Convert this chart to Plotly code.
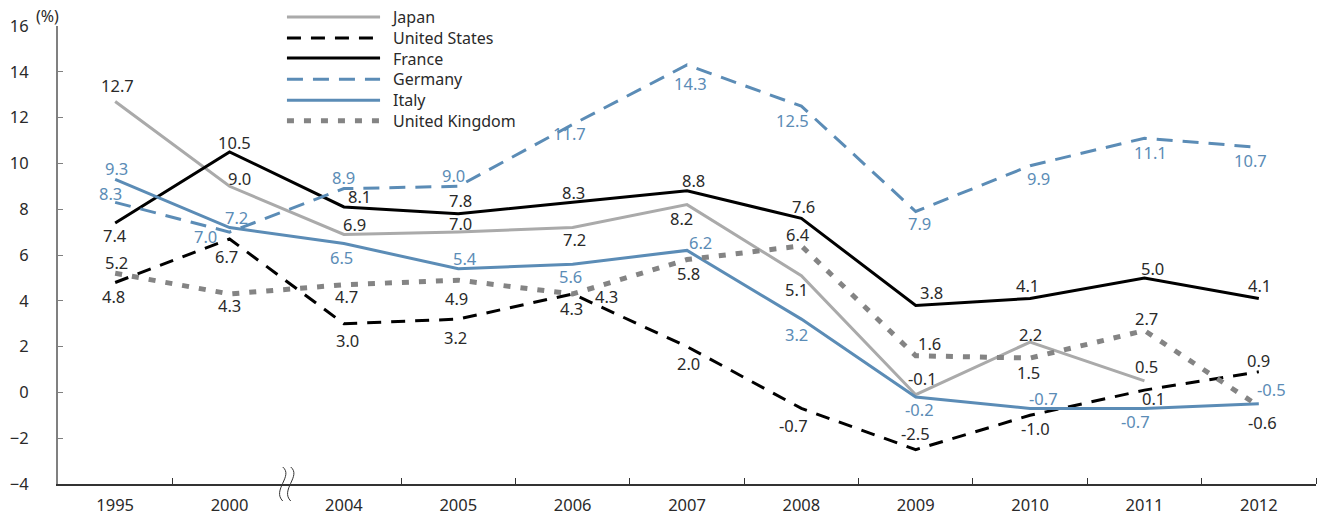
import plotly.graph_objects as go

# ---------------- data ----------------
years = ["1995", "2000", "2004", "2005", "2006", "2007", "2008", "2009", "2010", "2011", "2012"]
japan = [12.7, 9.0, 6.9, 7.0, 7.2, 8.2, 5.1, -0.1, 2.2, 0.5, None]
united_states = [4.8, 6.7, 3.0, 3.2, 4.3, 2.0, -0.7, -2.5, -1.0, 0.1, 0.9]
france = [7.4, 10.5, 8.1, 7.8, 8.3, 8.8, 7.6, 3.8, 4.1, 5.0, 4.1]
germany = [8.3, 7.0, 8.9, 9.0, 11.7, 14.3, 12.5, 7.9, 9.9, 11.1, 10.7]
italy = [9.3, 7.2, 6.5, 5.4, 5.6, 6.2, 3.2, -0.2, -0.7, -0.7, -0.5]
united_kingdom = [5.2, 4.3, 4.7, 4.9, 4.3, 5.8, 6.4, 1.6, 1.5, 2.7, -0.6]

# ---------------- styling ----------------
FONT = "Noto Sans"
FS = 16.5
TXT = "#2a2a2a"
BLUE = "#5b8cb6"
GRAY_J = "#aaaaaa"
GRAY_UK = "#848484"

series = [
    ("Japan", japan, dict(color=GRAY_J, width=3), TXT),
    ("United States", united_states, dict(color="#000000", width=3, dash="14px,10px"), TXT),
    ("France", france, dict(color="#000000", width=3), TXT),
    ("Germany", germany, dict(color=BLUE, width=3, dash="16px,10px"), BLUE),
    ("Italy", italy, dict(color=BLUE, width=3), BLUE),
    ("United Kingdom", united_kingdom, dict(color=GRAY_UK, width=5, dash="7px,10px"), TXT),
]

# label offsets in px (dx right, dy down) for each series' value labels
label_offsets = {
    "Japan": [(2, -16), (10, -8), (11, -10), (2, -9), (2, 12), (-6, 14), (-5, 14), (7, -16), (0, -8), (2, -14)],
    "United States": [(-2, 14), (-3, 18), (4, 17), (-3, 18), (-1, 15), (1, 17), (-8, 17), (0, -16), (5, 13), (9, 8), (0, -11)],
    "France": [(0, 13), (5, -9), (16, -10), (2, -13), (1, -10), (6, -10), (2, -12), (16, -13), (-3, -13), (8, -9), (1, -13)],
    "Germany": [(-5, -9), (-24, 4), (0, -11), (-5, -11), (-3, 9), (3, 19), (-9, 14), (4, 12), (8, 13), (6, 14), (-8, 13)],
    "Italy": [(1, -11), (7, -10), (-2, 14), (7, -10), (-2, 12), (13, -8), (-5, 15), (4, 13), (13, -10), (-9, 13), (13, -14)],
    "United Kingdom": [(1, -11), (0, 12), (3, 12), (-2, 18), (34, 3), (1, 14), (-3, -11), (14, -12), (-2, 14), (2, -12), (4, 16)],
}

xs = list(range(len(years)))

fig = go.Figure()
annotations = []
for name, vals, line, tcolor in series:
    fig.add_trace(go.Scatter(x=xs, y=vals, mode="lines", name=name, line=line,
                             showlegend=False, connectgaps=False, hoverinfo="skip"))
    offs = label_offsets[name]
    for i, v in enumerate(vals):
        if v is None:
            continue
        dx, dy = offs[i]
        annotations.append(dict(x=xs[i], y=v, xref="x", yref="y", text=f"{v:.1f}",
                                showarrow=False, xshift=dx, yshift=-dy,
                                font=dict(family=FONT, size=FS, color=tcolor)))

# custom legend (long line samples as in the reference)
leg_x0, leg_x1, leg_tx = 0.182, 0.256, 0.263
leg_rows = [1.0197, 0.974, 0.930, 0.884, 0.838, 0.793]
shapes = []
for (name, vals, line, tcolor), yy in zip(series, leg_rows):
    shapes.append(dict(type="line", xref="paper", yref="paper", x0=leg_x0, x1=leg_x1,
                       y0=yy, y1=yy, line=line))
annotations.append(dict(x=leg_tx, y=sum(leg_rows) / len(leg_rows), xref="paper", yref="paper",
                        text="<br>".join(s[0] for s in series), align="left",
                        showarrow=False, xanchor="left", yanchor="middle",
                        font=dict(family=FONT, size=16, color=TXT)))

# axis break symbol between 2000 and 2004 (at the category boundary)
shapes.append(dict(type="path", xref="paper", yref="paper", xsizemode="pixel", ysizemode="pixel",
                   xanchor=2 / len(years), yanchor=0,
                   path="M -4,17 C 7,8 -15,-6 -4,-17 M 4,17 C 15,8 -7,-6 4,-17",
                   line=dict(color="#333333", width=1)))

# unit label
annotations.append(dict(x=-0.008, y=1.0218, xref="paper", yref="paper", text="(%)", showarrow=False,
                        xanchor="center", yanchor="middle",
                        font=dict(family=FONT, size=16, color=TXT)))

fig.update_layout(
    width=1319, height=516,
    margin=dict(l=58, r=3, t=26, b=32),
    paper_bgcolor="white", plot_bgcolor="white",
    font=dict(family=FONT, size=FS, color=TXT),
    annotations=annotations, shapes=shapes,
    showlegend=False,
)
fig.update_xaxes(
    range=[-0.5, 10.5], tickmode="array", tickvals=xs, ticktext=years,
    ticks="", showgrid=False, zeroline=False, automargin=False,
    showline=True, linecolor="#333333", linewidth=1.5,
    ticklabelstandoff=5,
    tickfont=dict(family=FONT, size=FS, color=TXT),
    minor=dict(tickmode="array", tickvals=[0.5, 2.5, 3.5, 4.5, 5.5, 6.5, 7.5, 8.5, 9.5, 10.5],
               ticks="inside", ticklen=6, tickcolor="#333333", tickwidth=1, showgrid=False),
)
fig.update_yaxes(
    range=[-4, 16], dtick=2, tick0=0, showgrid=False, zeroline=False, automargin=False,
    showline=True, linecolor="#808080", linewidth=2,
    ticks="inside", ticklen=5, tickcolor="#808080", tickwidth=1,
    ticklabelstandoff=24,
    tickfont=dict(family=FONT, size=FS, color=TXT),
)

# remove the default 8px page margin so the figure fills the window exactly
fig.write_html("out.html", config={"displayModeBar": False},
               post_script="document.body.style.margin='0px';")
